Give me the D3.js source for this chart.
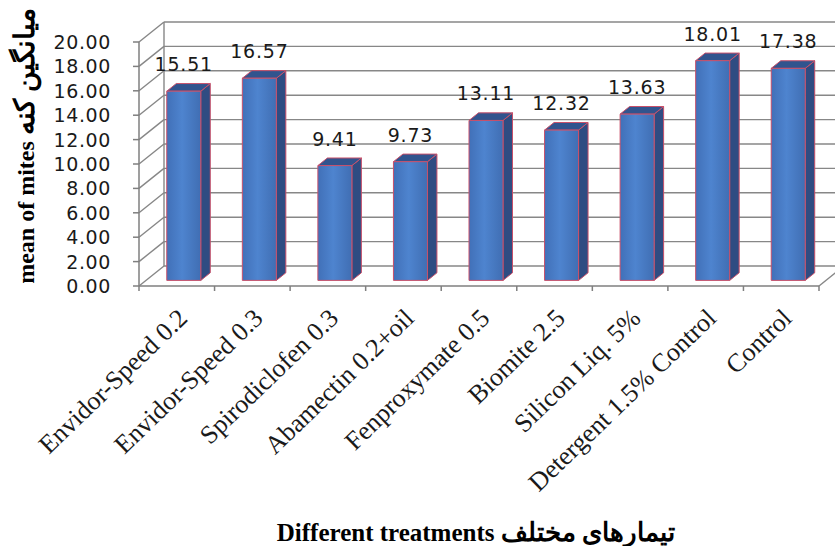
<!DOCTYPE html>
<html>
<head>
<meta charset="utf-8">
<script src="https://cdn.jsdelivr.net/npm/d3@7"></script>
<style>
  body { margin: 0; background: #fff; }
  svg { display: block; }
</style>
</head>
<body>
<div id="chart"></div>
<script>
const categories = ["Envidor-Speed 0.2", "Envidor-Speed 0.3", "Spirodiclofen 0.3", "Abamectin 0.2+oil",
    "Fenproxymate 0.5", "Biomite 2.5", "Silicon Liq. 5%", "Detergent 1.5% Control", "Control"];
const values = [15.51, 16.57, 9.41, 9.73, 13.11, 12.32, 13.63, 18.01, 17.38];
const yTicks = [0, 2, 4, 6, 8, 10, 12, 14, 16, 18, 20];

const W = 835, H = 546;
const depth = { dx: 25, dy: -20 };   // back wall offset
const barDepth = { start: 0.28, size: 0.38 };

const svg = d3.select("#chart").append("svg")
    .attr("width", W).attr("height", H);

const x = d3.scaleBand().domain(categories).range([139, 819]);
const y = d3.scaleLinear().domain([0, 20]).range([286, 42]);

const grid = svg.append("g").attr("stroke", "#878787").attr("stroke-width", 1.4).attr("fill", "none");

// back wall gridlines + left wall diagonals
yTicks.forEach(t => {
    grid.append("line")
        .attr("x1", x.range()[0] + depth.dx).attr("x2", W + 10)
        .attr("y1", y(t) + depth.dy).attr("y2", y(t) + depth.dy);
    grid.append("line")
        .attr("x1", x.range()[0]).attr("x2", x.range()[0] + depth.dx)
        .attr("y1", y(t)).attr("y2", y(t) + depth.dy);
});
// back wall left edge
grid.append("line")
    .attr("x1", x.range()[0] + depth.dx).attr("x2", x.range()[0] + depth.dx)
    .attr("y1", y(0) + depth.dy).attr("y2", y(20) + depth.dy);
// floor right edge
grid.append("line")
    .attr("x1", x.range()[1]).attr("x2", x.range()[1] + depth.dx)
    .attr("y1", y(0)).attr("y2", y(0) + depth.dy);

// front axes
const axis = svg.append("g").attr("stroke", "#7f7f7f").attr("stroke-width", 1.5);
axis.append("line")
    .attr("x1", x.range()[0]).attr("x2", x.range()[0])
    .attr("y1", y(0)).attr("y2", y(20));
axis.append("line")
    .attr("x1", x.range()[0]).attr("x2", x.range()[1])
    .attr("y1", y(0)).attr("y2", y(0));
yTicks.forEach(t => {
    axis.append("line")
        .attr("x1", x.range()[0] - 6).attr("x2", x.range()[0])
        .attr("y1", y(t)).attr("y2", y(t));
});
categories.forEach((c, i) => {
    axis.append("line")
        .attr("x1", x(c) + x.bandwidth()).attr("x2", x(c) + x.bandwidth())
        .attr("y1", y(0)).attr("y2", y(0) + 5);
});
axis.append("line")
    .attr("x1", x.range()[0]).attr("x2", x.range()[0])
    .attr("y1", y(0)).attr("y2", y(0) + 5);

// y tick labels
svg.append("g").selectAll("text")
    .data(yTicks)
    .enter().append("text")
    .attr("x", 111)
    .attr("y", d => y(d) + 7)
    .attr("text-anchor", "end")
    .style("font-family", "DejaVu Sans")
    .style("font-size", "19px")
    .style("letter-spacing", "0.6px")
    .style("fill", "#1a1a1a")
    .text(d => d.toFixed(2));

// bar gradient
const defs = svg.append("defs");
const grad = defs.append("linearGradient").attr("id", "front")
    .attr("x1", "0%").attr("x2", "100%").attr("y1", "0%").attr("y2", "0%");
grad.append("stop").attr("offset", "0%").attr("stop-color", "#4170b8");
grad.append("stop").attr("offset", "45%").attr("stop-color", "#4e84cf");
grad.append("stop").attr("offset", "100%").attr("stop-color", "#406eb3");

// bars
const barW = x.bandwidth() * 0.45;
const ox = depth.dx * barDepth.start, oy = depth.dy * barDepth.start;
const sx = depth.dx * barDepth.size, sy = depth.dy * barDepth.size;

const bars = svg.append("g").selectAll("g")
    .data(categories.map((c, i) => ({ c, v: values[i] })))
    .enter().append("g")
    .attr("stroke", "#c8506a").attr("stroke-width", 1).attr("stroke-linejoin", "round");

bars.each(function(d) {
    const g = d3.select(this);
    const x0 = x(d.c) + x.bandwidth() / 2 - barW / 2 + ox;
    const x1 = x0 + barW;
    const yb = y(0) + oy, yt = y(d.v) + oy;
    // side
    g.append("path")
        .attr("d", `M${x1},${yt}L${x1 + sx},${yt + sy}L${x1 + sx},${yb + sy}L${x1},${yb}Z`)
        .attr("fill", "#2f4c82");
    // top
    g.append("path")
        .attr("d", `M${x0},${yt}L${x0 + sx},${yt + sy}L${x1 + sx},${yt + sy}L${x1},${yt}Z`)
        .attr("fill", "#31548e");
    // front
    g.append("rect")
        .attr("x", x0).attr("y", yt)
        .attr("width", barW).attr("height", yb - yt)
        .attr("fill", "url(#front)");
});

// value labels
svg.append("g").selectAll("text")
    .data(categories.map((c, i) => ({ c, v: values[i] })))
    .enter().append("text")
    .attr("x", d => x(d.c) + x.bandwidth() / 2 + ox)
    .attr("y", d => y(d.v) + oy - 20)
    .attr("text-anchor", "middle")
    .style("font-family", "DejaVu Sans")
    .style("font-size", "19px")
    .style("letter-spacing", "0.8px")
    .style("fill", "#1a1a1a")
    .text(d => d.v.toFixed(2));

// category labels
svg.append("g").selectAll("text")
    .data(categories)
    .enter().append("text")
    .attr("transform", d => `translate(${x(d) + x.bandwidth() / 2 + 12},${320}) rotate(-44)`)
    .attr("text-anchor", "end")
    .style("font-family", "Liberation Serif")
    .style("font-size", "26px")
    .style("fill", "#1a1a1a")
    .text(d => d);

// axis titles
const yTitle = svg.append("text")
    .attr("transform", "translate(34,146) rotate(-90)")
    .attr("text-anchor", "middle")
    .style("font-family", "Liberation Serif")
    .style("font-weight", "bold")
    .style("font-size", "24px");
yTitle.append("tspan").text("mean of mites ");
yTitle.append("tspan").style("font-size", "28px").text("میانگین کنه");

const xTitle = svg.append("text")
    .attr("x", 476).attr("y", 541)
    .attr("text-anchor", "middle")
    .style("font-family", "Liberation Serif")
    .style("font-weight", "bold")
    .style("font-size", "25px");
xTitle.append("tspan").text("Different treatments ");
xTitle.append("tspan").style("font-size", "26px").text("تیمارهای مختلف");
</script>
</body>
</html>
